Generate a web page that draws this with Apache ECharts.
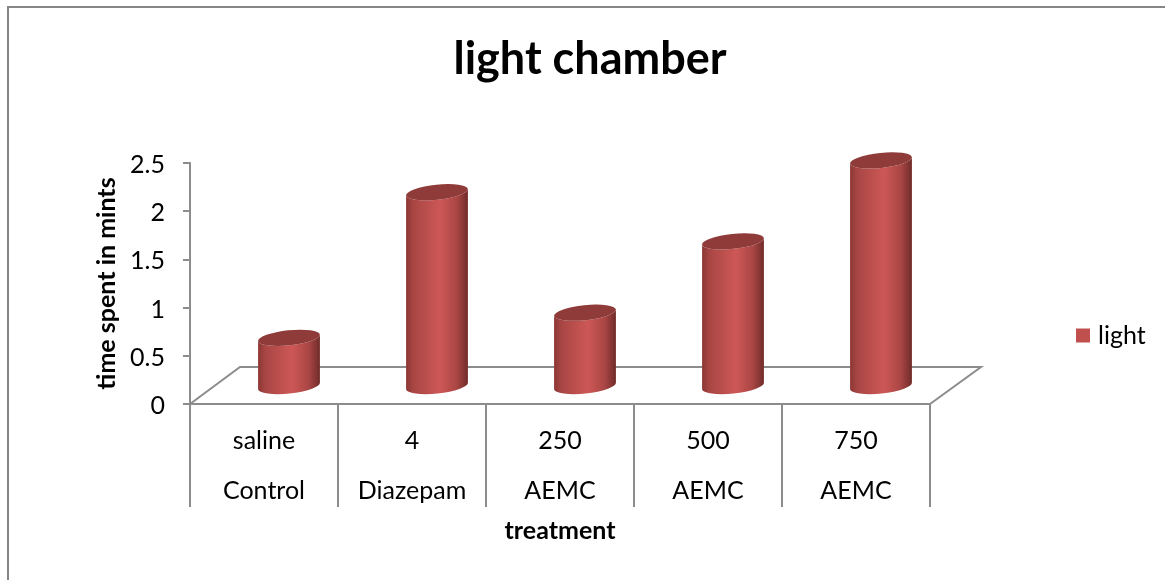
<!DOCTYPE html>
<html>
<head>
<meta charset="utf-8">
<style>html,body{margin:0;padding:0;background:#fff}#c{width:1165px;height:580px}</style>
<script src="https://cdn.jsdelivr.net/npm/echarts@6/dist/echarts.min.js"></script>
</head>
<body>
<div id="c"></div>
<script>
const doses = ['saline', '4', '250', '500', '750'];
const groups = ['Control', 'Diazepam', 'AEMC', 'AEMC', 'AEMC'];
const light = [0.5, 2.01, 0.76, 1.5, 2.34];
const ticks = [0, 0.5, 1, 1.5, 2, 2.5];

const FONT = 'Lato, "Open Sans", sans-serif';
const AXIS = '#8c8c8c';
const DEPTH_X = 50, DEPTH_Y = 37;      // floor depth in the 3D look
const OFF_X = 25, OFF_Y = 18;          // bars stand mid-depth on the floor
const TILT = -6;                       // ellipse tilt, degrees

function cylinder(params, api) {
  const i = api.value(0);
  const band = api.size([1, 0])[0];
  const rx = band * 0.21, ry = 7.5;
  const base = api.coord([i, 0]);
  const top = api.coord([i, api.value(1)]);
  const cx = base[0] + OFF_X;
  const by = base[1] - OFF_Y, ty = top[1] - OFF_Y;
  const a = TILT * Math.PI / 180;
  const dx = rx * Math.cos(a), dy = rx * Math.sin(a);
  const arc = `A${rx} ${ry} ${TILT} 0 `;
  const body = `M${cx - dx} ${ty - dy}L${cx - dx} ${by - dy}` +
    arc + `0 ${cx + dx} ${by + dy}L${cx + dx} ${ty + dy}` +
    arc + `1 ${cx - dx} ${ty - dy}Z`;
  const cap = `M${cx - dx} ${ty - dy}` + arc + `1 ${cx + dx} ${ty + dy}` +
    arc + `1 ${cx - dx} ${ty - dy}Z`;
  return {
    type: 'group',
    children: [
      {
        type: 'path', shape: { pathData: body },
        style: {
          fill: new echarts.graphic.LinearGradient(0, 0, 1, 0, [
            { offset: 0, color: '#8a3633' },
            { offset: 0.12, color: '#a84644' },
            { offset: 0.55, color: '#cd5856' },
            { offset: 0.82, color: '#a94644' },
            { offset: 1, color: '#6f2b29' }
          ])
        }
      },
      { type: 'path', shape: { pathData: cap }, style: { fill: '#8e3b39' } }
    ]
  };
}

function floor(params) {
  const g = params.coordSys;
  const y = g.y + g.height;
  const a = [g.x, y], b = [g.x + g.width, y];
  const pts = [a, [a[0] + DEPTH_X, y - DEPTH_Y], [b[0] + DEPTH_X + 1, y - DEPTH_Y], b];
  return {
    type: 'polyline', shape: { points: pts },
    style: { stroke: AXIS, lineWidth: 2, fill: null }
  };
}

const chart = echarts.init(document.getElementById('c'), null, { renderer: 'canvas' });
chart.setOption({
  animation: false,
  backgroundColor: '#fff',
  title: {
    text: 'light chamber', left: 585, top: 32, textAlign: 'center',
    textStyle: { fontFamily: FONT, fontSize: 45, fontWeight: 'bold', color: '#000' }
  },
  legend: {
    data: [{ name: 'light', icon: 'rect', itemStyle: { color: '#c0504d' } }],
    left: 1071, top: 318, itemWidth: 14, itemHeight: 14,
    textStyle: { fontFamily: FONT, fontSize: 25, color: '#000', padding: [0, 0, 0, 3] }
  },
  grid: { left: 190, right: 235, top: 163, bottom: 176 },
  xAxis: [
    {
      type: 'category', data: doses, position: 'bottom',
      axisLine: { lineStyle: { color: AXIS, width: 2 } },
      axisTick: { show: true, length: 103, lineStyle: { color: AXIS, width: 2 } },
      axisLabel: { margin: 24, fontFamily: FONT, fontSize: 25, color: '#000', interval: 0 }
    },
    {
      type: 'category', data: groups, position: 'bottom',
      axisLine: { show: false }, axisTick: { show: false },
      axisLabel: { margin: 74, fontFamily: FONT, fontSize: 25, color: '#000', interval: 0 },
      name: 'treatment', nameLocation: 'middle', nameGap: 114,
      nameTextStyle: { fontFamily: FONT, fontSize: 25, fontWeight: 'bold', color: '#000' }
    }
  ],
  yAxis: {
    type: 'value', min: ticks[0], max: ticks[ticks.length - 1], interval: 0.5,
    splitLine: { show: false },
    axisLine: { show: true, lineStyle: { color: AXIS, width: 2 } },
    axisTick: { show: true, length: 7, lineStyle: { color: AXIS, width: 2 } },
    axisLabel: {
      margin: 25, fontFamily: FONT, fontSize: 25, color: '#000',
      formatter: '{n|{value}}',
      rich: { n: { fontFamily: FONT, fontSize: 25, color: '#000', padding: [4, 0, 0, 0] } }
    },
    name: 'time spent in mints', nameLocation: 'middle', nameGap: 70, nameRotate: 90,
    nameTextStyle: { fontFamily: FONT, fontSize: 25, fontWeight: 'bold', color: '#000' }
  },
  series: [
    { type: 'custom', name: 'floor', renderItem: floor, data: [[0, 0]], silent: true, z: 1, encode: { x: 0, y: 1 }, clip: false },
    { type: 'custom', name: 'light', renderItem: cylinder, data: light.map((v, i) => [i, v]), z: 2, encode: { x: 0, y: 1 }, clip: false, itemStyle: { color: '#c0504d' } }
  ],
  graphic: [
    { type: 'polyline', shape: { points: [[8, 580], [8, 7], [1165, 7]] }, style: { stroke: '#868686', lineWidth: 2, fill: null }, silent: true }
  ]
});
</script>
</body>
</html>
